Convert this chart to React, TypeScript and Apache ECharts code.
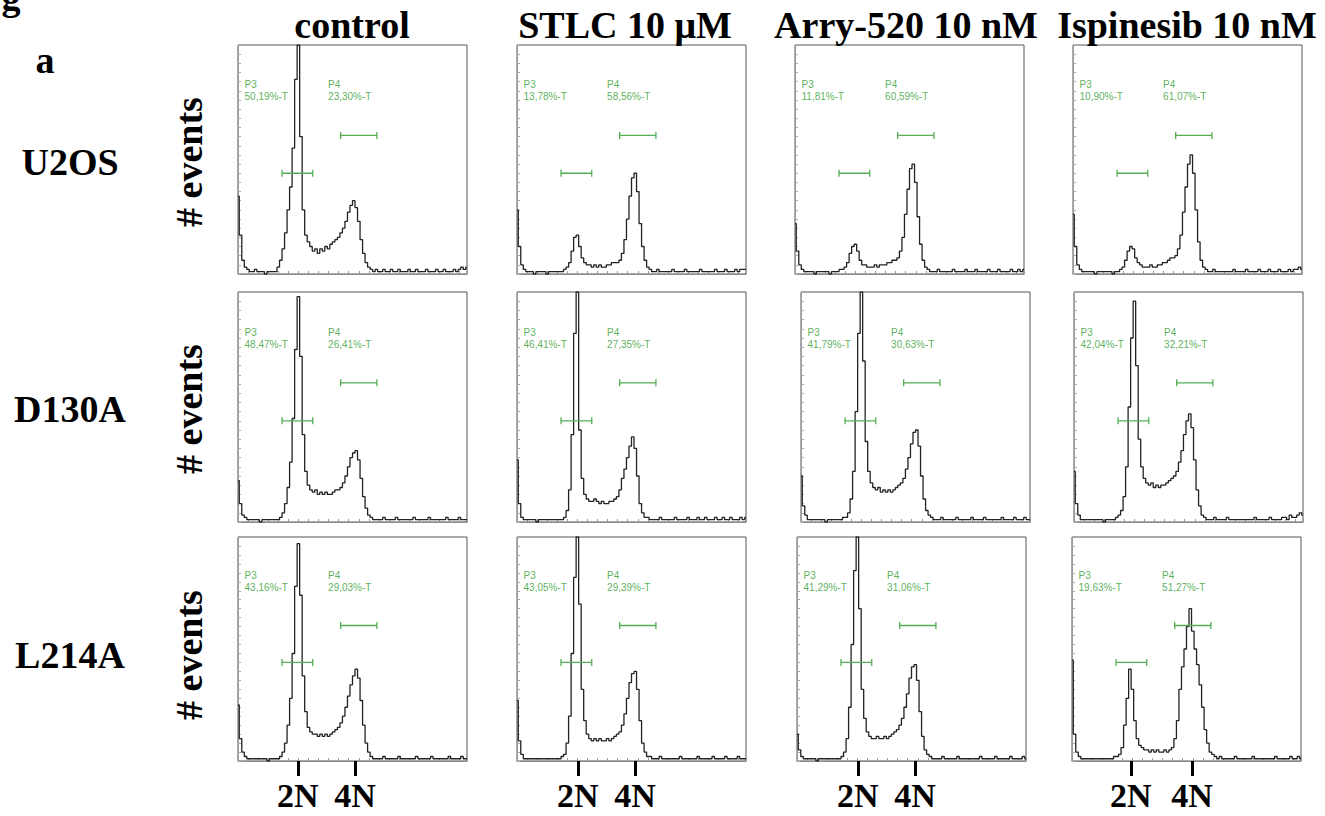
import React, { useEffect, useRef } from "react";
import * as echarts from "echarts";

// ---------------- data ----------------
const columns = ["control", "STLC 10 μM", "Arry-520 10 nM", "Ispinesib 10 nM"];
const cellLines = ["U2OS", "D130A", "L214A"];
const yAxisTitle = "# events";
const ploidyLabels = ["2N", "4N"];
// 2N / 4N channel (bin) positions per column
const ploidyBins = [
  [23.8, 46.5],
  [24.2, 46.9],
  [24.2, 46.9],
  [23.4, 47.7],
];
const gateNames = ["P3", "P4"];
const gateRanges = [
  [17.5, 29.7],
  [40.8, 55.2],
];
const gateLevels = [44, 60.5];
const p3Percent = [
  ["50,19", "13,78", "11,81", "10,90"],
  ["48,47", "46,41", "41,79", "42,04"],
  ["43,16", "43,05", "41,29", "19,63"],
];
const p4Percent = [
  ["23,30", "58,56", "60,59", "61,07"],
  ["26,41", "27,35", "30,63", "32,21"],
  ["29,03", "29,39", "31,06", "51,27"],
];

// histogram counts (% of panel height), 92 bins each
const histU2OSControl = [
  34, 17, 6, 3, 2, 1, 1, 2, 1, 1,
  1, 0, 1, 1, 1, 1, 3, 6, 11, 18,
  28, 38, 55, 85, 100, 60, 28, 17, 14, 12,
  10, 11, 9, 11, 10, 12, 11, 13, 14, 15,
  16, 18, 20, 23, 27, 30, 32, 29, 23, 15,
  9, 5, 3, 2, 1, 2, 1, 1, 2, 1,
  1, 2, 1, 1, 2, 1, 1, 1, 2, 1,
  1, 2, 1, 1, 1, 2, 1, 1, 1, 2,
  1, 1, 2, 1, 1, 1, 2, 1, 2, 3,
  2, 3,
];
const histU2OSSTLC = [
  28, 12, 4, 2, 1, 1, 1, 0, 1, 1,
  1, 1, 0, 1, 1, 1, 1, 1, 1, 2,
  3, 5, 10, 16, 17, 12, 7, 5, 4, 4,
  3, 4, 3, 4, 3, 3, 4, 4, 5, 5,
  5, 6, 9, 15, 24, 34, 42, 44, 36, 22,
  12, 6, 3, 2, 1, 1, 2, 1, 1, 1,
  1, 1, 2, 1, 1, 1, 1, 2, 1, 1,
  1, 1, 1, 2, 1, 1, 1, 1, 1, 2,
  1, 1, 1, 2, 1, 1, 1, 2, 1, 2,
  2, 2,
];
const histU2OSArry = [
  22, 10, 4, 2, 1, 1, 1, 1, 0, 1,
  1, 1, 1, 1, 0, 1, 1, 1, 2, 2,
  3, 5, 9, 12, 13, 10, 6, 4, 4, 3,
  3, 3, 4, 3, 4, 4, 4, 5, 5, 6,
  6, 7, 10, 16, 26, 37, 46, 48, 40, 25,
  13, 6, 3, 2, 1, 1, 1, 2, 1, 1,
  1, 1, 1, 2, 1, 1, 1, 1, 2, 1,
  1, 1, 2, 1, 1, 1, 1, 2, 1, 1,
  1, 2, 1, 1, 1, 1, 2, 1, 1, 2,
  1, 2,
];
const histU2OSIspinesib = [
  26, 12, 4, 2, 1, 1, 1, 1, 1, 0,
  1, 1, 1, 1, 1, 1, 0, 1, 1, 2,
  3, 6, 10, 12, 11, 7, 5, 4, 3, 3,
  3, 4, 3, 3, 4, 4, 5, 5, 6, 7,
  7, 8, 11, 17, 27, 38, 48, 52, 44, 28,
  14, 6, 3, 2, 1, 1, 2, 1, 1, 1,
  1, 1, 1, 1, 2, 1, 1, 1, 1, 2,
  1, 1, 1, 1, 2, 1, 1, 1, 2, 1,
  1, 1, 2, 1, 1, 1, 2, 1, 2, 2,
  3, 2,
];
const histD130AControl = [
  18, 8, 3, 2, 1, 1, 1, 1, 1, 0,
  1, 1, 1, 1, 1, 1, 1, 2, 4, 8,
  15, 26, 45, 75, 98, 72, 38, 22, 16, 14,
  13, 14, 12, 13, 12, 13, 12, 12, 13, 14,
  14, 15, 17, 20, 24, 28, 30, 31, 27, 19,
  11, 6, 3, 2, 1, 1, 1, 1, 2, 1,
  1, 1, 1, 2, 1, 1, 1, 1, 1, 1,
  2, 1, 1, 1, 1, 1, 2, 1, 1, 1,
  1, 1, 1, 2, 1, 1, 1, 1, 2, 1,
  1, 1,
];
const histD130ASTLC = [
  27, 8, 2, 1, 1, 1, 1, 1, 0, 1,
  1, 1, 1, 1, 1, 1, 1, 1, 1, 2,
  5, 14, 38, 82, 100, 40, 19, 12, 10, 9,
  9, 10, 9, 8, 9, 8, 8, 9, 9, 10,
  11, 14, 19, 23, 28, 33, 37, 32, 20, 8,
  4, 2, 2, 1, 1, 1, 1, 2, 1, 1,
  1, 1, 1, 2, 1, 1, 1, 1, 2, 1,
  1, 1, 2, 1, 1, 2, 1, 1, 1, 2,
  1, 1, 2, 1, 1, 2, 1, 1, 1, 2,
  1, 2,
];
const histD130AArry = [
  20, 7, 3, 1, 1, 1, 1, 1, 1, 1,
  0, 1, 1, 1, 1, 1, 1, 2, 2, 4,
  10, 22, 48, 82, 100, 70, 35, 22, 17, 15,
  14, 15, 13, 14, 13, 14, 13, 14, 15, 16,
  17, 19, 23, 28, 34, 39, 40, 33, 20, 10,
  5, 3, 2, 1, 1, 1, 2, 1, 1, 1,
  1, 1, 2, 1, 1, 1, 1, 1, 2, 1,
  1, 1, 1, 2, 1, 1, 1, 1, 1, 1,
  2, 1, 1, 1, 1, 2, 1, 1, 1, 2,
  1, 1,
];
const histD130AIspinesib = [
  22, 8, 3, 1, 1, 1, 1, 1, 1, 1,
  1, 1, 0, 1, 1, 1, 1, 2, 3, 5,
  11, 24, 50, 80, 96, 68, 36, 24, 19, 17,
  16, 17, 15, 16, 15, 16, 16, 17, 18, 19,
  20, 22, 26, 31, 38, 44, 47, 41, 27, 14,
  7, 3, 2, 1, 1, 1, 2, 1, 1, 1,
  1, 2, 1, 1, 1, 1, 1, 1, 1, 1,
  1, 1, 2, 1, 1, 1, 1, 1, 2, 1,
  1, 1, 1, 2, 2, 1, 3, 2, 2, 3,
  4, 3,
];
const histL214AControl = [
  25, 10, 4, 2, 1, 1, 1, 1, 1, 1,
  1, 1, 0, 1, 1, 1, 1, 2, 4, 8,
  16, 28, 48, 78, 97, 74, 38, 22, 15, 13,
  12, 12, 11, 12, 11, 12, 11, 12, 13, 14,
  15, 17, 20, 24, 29, 34, 38, 41, 37, 27,
  16, 8, 4, 2, 1, 1, 1, 1, 2, 1,
  1, 1, 1, 1, 2, 1, 1, 1, 1, 1,
  1, 2, 1, 1, 1, 1, 1, 2, 1, 1,
  1, 1, 1, 1, 2, 1, 1, 1, 1, 2,
  1, 1,
];
const histL214ASTLC = [
  27, 9, 3, 1, 1, 1, 1, 1, 1, 1,
  1, 1, 1, 1, 1, 1, 1, 1, 2, 3,
  8, 20, 48, 82, 100, 70, 32, 18, 12, 10,
  9, 10, 9, 10, 9, 9, 10, 9, 10, 11,
  12, 13, 16, 21, 28, 35, 39, 40, 32, 18,
  8, 4, 2, 2, 1, 1, 1, 2, 1, 1,
  1, 1, 1, 1, 1, 2, 1, 1, 1, 1,
  1, 1, 2, 1, 1, 1, 1, 1, 2, 1,
  1, 1, 1, 2, 1, 1, 1, 1, 2, 1,
  1, 1,
];
const histL214AArry = [
  12, 5, 2, 1, 1, 1, 1, 1, 0, 1,
  1, 1, 1, 1, 1, 1, 1, 1, 2, 4,
  10, 24, 52, 85, 100, 68, 32, 19, 13, 11,
  10, 10, 11, 10, 10, 11, 10, 11, 12, 13,
  14, 16, 19, 24, 30, 37, 42, 43, 36, 22,
  11, 5, 3, 2, 1, 1, 1, 1, 2, 1,
  1, 1, 1, 1, 2, 1, 1, 1, 1, 1,
  1, 1, 1, 2, 1, 1, 1, 1, 1, 2,
  1, 1, 1, 1, 1, 2, 1, 1, 1, 1,
  2, 1,
];
const histL214AIspinesib = [
  45, 12, 4, 2, 1, 1, 1, 1, 1, 1,
  1, 1, 1, 1, 1, 1, 1, 2, 2, 3,
  6, 16, 28, 41, 32, 18, 10, 7, 6, 5,
  5, 4, 5, 4, 5, 4, 4, 5, 4, 5,
  6, 10, 18, 32, 42, 50, 60, 68, 58, 50,
  43, 34, 24, 14, 8, 4, 3, 2, 1, 2,
  1, 1, 1, 1, 1, 2, 1, 1, 1, 1,
  1, 1, 2, 1, 1, 1, 1, 1, 1, 1,
  1, 2, 1, 1, 1, 1, 1, 2, 1, 1,
  2, 1,
];

const histograms = [
  [histU2OSControl, histU2OSSTLC, histU2OSArry, histU2OSIspinesib],
  [histD130AControl, histD130ASTLC, histD130AArry, histD130AIspinesib],
  [histL214AControl, histL214ASTLC, histL214AArry, histL214AIspinesib],
];

// ---------------- layout ----------------
const panelLefts = [
  [238, 517, 795, 1073],
  [238, 517, 801, 1074],
  [238, 517, 797, 1072],
];
const rowTops = [45, 292, 537];
const rowHeights = [229, 230, 224];
const panelWidth = 229;
const titleXs = [352, 625, 906, 1187];
const rowLabelYs = [162, 409, 655];

const GREEN_TEXT = "#2f9d2f";
const GREEN_GATE = "#55ad55";
const SERIF = '"Liberation Serif", "Times New Roman", serif';
const SANS = '"Liberation Sans", Arial, sans-serif';

function buildOption() {
  const grid: any[] = [];
  const xAxis: any[] = [];
  const yAxis: any[] = [];
  const series: any[] = [];
  let gi = 0;
  for (let r = 0; r < 3; r++) {
    for (let c = 0; c < 4; c++) {
      grid.push({
        left: panelLefts[r][c],
        top: rowTops[r],
        width: panelWidth,
        height: rowHeights[r],
        show: true,
        borderColor: "#555",
        borderWidth: 1,
        backgroundColor: "#fff",
      });
      const xi = xAxis.length;
      xAxis.push({
        gridIndex: gi,
        type: "value",
        min: 0,
        max: 91,
        interval: 4,
        axisLine: { show: true, lineStyle: { color: "#8a8a8a", width: 1 } },
        axisTick: { show: true, inside: true, length: 3, lineStyle: { color: "#9a9a9a" } },
        axisLabel: { show: false },
        splitLine: { show: false },
      });
      if (r === 2) {
        const bins = ploidyBins[c];
        xAxis.push({
          gridIndex: gi,
          type: "value",
          min: 0,
          max: 91,
          position: "bottom",
          axisLine: { show: false },
          axisTick: {
            show: true,
            inside: false,
            length: 15,
            customValues: bins,
            lineStyle: { color: "#000", width: 3 },
          },
          axisLabel: {
            show: true,
            customValues: bins,
            margin: 17,
            color: "#000",
            fontFamily: SERIF,
            fontWeight: "bold",
            fontSize: 34,
            formatter: (v: number) => {
              let best = 0;
              for (let k = 1; k < bins.length; k++) {
                if (Math.abs(bins[k] - v) < Math.abs(bins[best] - v)) best = k;
              }
              return ploidyLabels[best];
            },
          },
          splitLine: { show: false },
        });
      }
      yAxis.push({
        gridIndex: gi,
        type: "value",
        min: 0,
        max: 100,
        interval: 4,
        axisLine: { show: true, lineStyle: { color: "#9a9a9a", width: 1 } },
        axisTick: { show: true, inside: true, length: 3, lineStyle: { color: "#aaa" } },
        axisLabel: { show: false },
        splitLine: { show: false },
      });
      const hist = histograms[r][c];
      series.push({
        type: "line",
        xAxisIndex: xi,
        yAxisIndex: gi,
        data: hist.map((v, k) => [k, v]),
        step: "middle",
        symbol: "none",
        showSymbol: false,
        clip: true,
        silent: true,
        lineStyle: { color: "#222", width: 1.3 },
        z: 3,
      });
      for (let g = 0; g < 2; g++) {
        series.push({
          type: "line",
          xAxisIndex: xi,
          yAxisIndex: gi,
          data: [
            [gateRanges[g][0], gateLevels[g]],
            [gateRanges[g][1], gateLevels[g]],
          ],
          symbol: "rect",
          symbolSize: [1.3, 7],
          showSymbol: true,
          silent: true,
          itemStyle: { color: GREEN_GATE },
          lineStyle: { color: GREEN_GATE, width: 1.3 },
          z: 4,
        });
      }
      series.push({
        type: "scatter",
        xAxisIndex: xi,
        yAxisIndex: gi,
        symbolSize: 0,
        silent: true,
        data: [
          { name: `${gateNames[0]}\n${p3Percent[r][c]}%-T`, value: [2.6, 80] },
          { name: `${gateNames[1]}\n${p4Percent[r][c]}%-T`, value: [35.8, 80] },
        ],
        label: {
          show: true,
          position: "right",
          distance: 0,
          formatter: "{b}",
          color: GREEN_TEXT,
          fontSize: 10,
          lineHeight: 12,
          fontFamily: SANS,
        },
        z: 5,
      });
      gi++;
    }
  }

  const textStyle = (text: string, size = 38) => ({
    text,
    fontFamily: SERIF,
    fontWeight: "bold",
    fontSize: size,
    fill: "#000",
    align: "center",
    verticalAlign: "middle",
  });
  const graphic: any[] = [];
  graphic.push({ type: "text", x: 11, y: 16, style: { ...textStyle("g"), verticalAlign: "bottom" } });
  graphic.push({ type: "text", x: 45, y: 60, style: textStyle("a") });
  columns.forEach((t, c) => {
    graphic.push({ type: "text", x: titleXs[c], y: 25, style: textStyle(t) });
  });
  cellLines.forEach((t, r) => {
    graphic.push({ type: "text", x: 70, y: rowLabelYs[r], style: textStyle(t) });
    graphic.push({
      type: "text",
      x: 189,
      y: rowLabelYs[r],
      rotation: Math.PI / 2,
      style: textStyle(yAxisTitle),
    });
  });

  return {
    animation: false,
    backgroundColor: "#fff",
    grid,
    xAxis,
    yAxis,
    series,
    graphic,
  };
}

export default function App() {
  const ref = useRef<HTMLDivElement>(null);
  useEffect(() => {
    if (!ref.current) return;
    const chart = echarts.init(ref.current, undefined, { renderer: "svg" });
    chart.setOption(buildOption() as any);
    return () => chart.dispose();
  }, []);
  return (
    <div
      ref={ref}
      style={{ position: "fixed", left: 0, top: 0, width: 1325, height: 816, background: "#fff" }}
    />
  );
}
